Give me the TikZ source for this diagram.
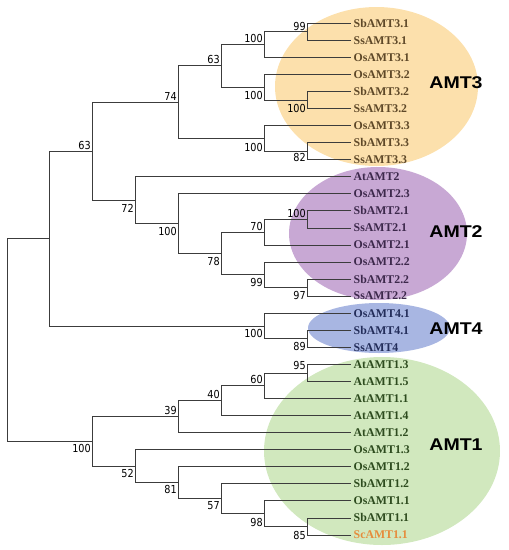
\documentclass[tikz,border=0pt]{standalone}
\usepackage{fontspec}
\setmainfont{Liberation Serif}
\newfontfamily\bsfont{DejaVu Sans}[FakeStretch=0.88]
\newfontfamily\grpfont{Liberation Sans}[FakeStretch=1.15]
\definecolor{ellA}{RGB}{252,224,172}
\definecolor{ellB}{RGB}{200,168,212}
\definecolor{ellC}{RGB}{168,182,226}
\definecolor{ellD}{RGB}{209,232,190}
\definecolor{tA}{RGB}{94,72,40}
\definecolor{tB}{RGB}{60,40,75}
\definecolor{tC}{RGB}{35,45,90}
\definecolor{tD}{RGB}{45,75,30}
\definecolor{tE}{RGB}{230,140,60}
\definecolor{branch}{RGB}{60,60,60}

\begin{document}
\begin{tikzpicture}[x=1pt,y=-1pt,
  leaf/.style={anchor=west,inner xsep=3pt,inner ysep=0pt,font=\fontsize{11.8}{12}\selectfont\bfseries},
  bs/.style={anchor=east,inner sep=0pt,font=\bsfont\fontsize{11}{11}\selectfont},
  grp/.style={inner sep=0pt,font=\grpfont\bfseries\fontsize{17}{17}\selectfont},
  br/.style={draw=branch,line width=0.8pt}]
  \useasboundingbox (0,0) rectangle (509,550);
  % clade ellipses
  \fill[ellA] (376.5,86.5) ellipse [x radius=101.5pt, y radius=79.5pt];
  \fill[ellB] (378,233.5) ellipse [x radius=89pt, y radius=66.5pt];
  \fill[ellC] (379,328) ellipse [x radius=71pt, y radius=25pt];
  \fill[ellD] (382,451) ellipse [x radius=118pt, y radius=94pt];
  \node[grp] (gA) at (456,83) {AMT3};
  \node[grp] (gB) at (456,231.5) {AMT2};
  \node[grp] (gC) at (456,329) {AMT4};
  \node[grp] (gD) at (456,445) {AMT1};
  % leaves
  \foreach \nm/\txt/\col [count=\i from 0] in {sb31/SbAMT3.1/tA, ss31/SsAMT3.1/tA, os31/OsAMT3.1/tA,
      os32/OsAMT3.2/tA, sb32/SbAMT3.2/tA, ss32/SsAMT3.2/tA, os33/OsAMT3.3/tA, sb33/SbAMT3.3/tA,
      ss33/SsAMT3.3/tA, at2/AtAMT2/tB, os23/OsAMT2.3/tB, sb21/SbAMT2.1/tB, ss21/SsAMT2.1/tB,
      os21/OsAMT2.1/tB, os22/OsAMT2.2/tB, sb22/SbAMT2.2/tB, ss22/SsAMT2.2/tB, os41/OsAMT4.1/tC,
      sb41/SbAMT4.1/tC, ss4/SsAMT4/tC, at13/AtAMT1.3/tD, at15/AtAMT1.5/tD, at11/AtAMT1.1/tD,
      at14/AtAMT1.4/tD, at12/AtAMT1.2/tD, os13/OsAMT1.3/tD, os12/OsAMT1.2/tD, sb12/SbAMT1.2/tD,
      os11/OsAMT1.1/tD, sb11/SbAMT1.1/tD, sc11/ScAMT1.1/tE}
    \node[leaf,text=\col] (\nm) at (350.5,{23.2+17.06*\i}) {\txt};
  % internal nodes
  \coordinate (root) at (7,340);
  \coordinate (n234) at (49.5,238.6);
  \coordinate (n23) at (92.5,151.15);
  \coordinate (n3) at (178.5,102.1);
  \coordinate (n3a) at (221.5,65.85);
  \coordinate (n31) at (264.5,44.5);
  \coordinate (n31s) at (307.5,31.75);
  \coordinate (n32) at (264.5,87.2);
  \coordinate (n32s) at (307.5,99.95);
  \coordinate (n33) at (264.5,138.4);
  \coordinate (n33s) at (307.5,151.15);
  \coordinate (n2) at (135.5,200.2);
  \coordinate (n2l) at (178.5,223.65);
  \coordinate (n2m) at (221.5,253.5);
  \coordinate (n21) at (264.5,232.2);
  \coordinate (n21s) at (307.5,219.4);
  \coordinate (n22) at (264.5,274.8);
  \coordinate (n22s) at (307.5,287.65);
  \coordinate (n4) at (264.5,326);
  \coordinate (n4s) at (307.5,338.8);
  \coordinate (n1) at (92.5,441.4);
  \coordinate (n1a) at (178.5,416.6);
  \coordinate (n1b) at (221.5,400.65);
  \coordinate (n1c) at (264.5,385.7);
  \coordinate (n1cs) at (307.5,372.95);
  \coordinate (n1t) at (135.5,466.25);
  \coordinate (n1y) at (178.5,482.8);
  \coordinate (n1z) at (221.5,498.75);
  \coordinate (n11) at (264.5,513.7);
  \coordinate (n11s) at (307.5,526.45);
  % branches
  \foreach \p/\c in {root/n234, root/n1, n234/n23, n234/n4, n23/n3, n23/n2, n3/n3a, n3/n33,
      n3a/n31, n3a/n32, n31/n31s, n31/os31, n31s/sb31, n31s/ss31, n32/os32, n32/n32s,
      n32s/sb32, n32s/ss32, n33/os33, n33/n33s, n33s/sb33, n33s/ss33, n2/at2, n2/n2l,
      n2l/os23, n2l/n2m, n2m/n21, n2m/n22, n21/n21s, n21/os21, n21s/sb21, n21s/ss21,
      n22/os22, n22/n22s, n22s/sb22, n22s/ss22, n4/os41, n4/n4s, n4s/sb41, n4s/ss4,
      n1/n1a, n1/n1t, n1a/n1b, n1a/at12, n1b/n1c, n1b/at14, n1c/n1cs, n1c/at11,
      n1cs/at13, n1cs/at15, n1t/os13, n1t/n1y, n1y/os12, n1y/n1z, n1z/sb12, n1z/n11,
      n11/os11, n11/n11s, n11s/sb11, n11s/sc11}
    \draw[br] (\p) |- (\c);
  % bootstrap values
  \node[bs] (v31s) at (306,26.7) {99};
  \node[bs] (v31) at (263,38) {100};
  \node[bs] (v3a) at (220,59) {63};
  \node[bs] (v32) at (263,95) {100};
  \node[bs] (v3) at (177,96) {74};
  \node[bs] (v32s) at (306,108) {100};
  \node[bs] (v33) at (263,147) {100};
  \node[bs] (v33s) at (306,157) {82};
  \node[bs] (v23) at (91,145) {63};
  \node[bs] (v2) at (134,208) {72};
  \node[bs] (v2l) at (177,231) {100};
  \node[bs] (v2m) at (220,261) {78};
  \node[bs] (v21) at (263,226) {70};
  \node[bs] (v21s) at (306,213) {100};
  \node[bs] (v22) at (263,282) {99};
  \node[bs] (v22s) at (306,295) {97};
  \node[bs] (v4) at (263,333) {100};
  \node[bs] (v4s) at (306,346) {89};
  \node[bs] (v1cs) at (306,365) {95};
  \node[bs] (v1c) at (263,379) {60};
  \node[bs] (v1b) at (220,394) {40};
  \node[bs] (v1a) at (177,410) {39};
  \node[bs] (v1) at (91,448) {100};
  \node[bs] (v1t) at (134,473) {52};
  \node[bs] (v1y) at (177,489) {81};
  \node[bs] (v1z) at (220,506) {57};
  \node[bs] (v11) at (263,522) {98};
  \node[bs] (v11s) at (306,535) {85};
\end{tikzpicture}
\end{document}
